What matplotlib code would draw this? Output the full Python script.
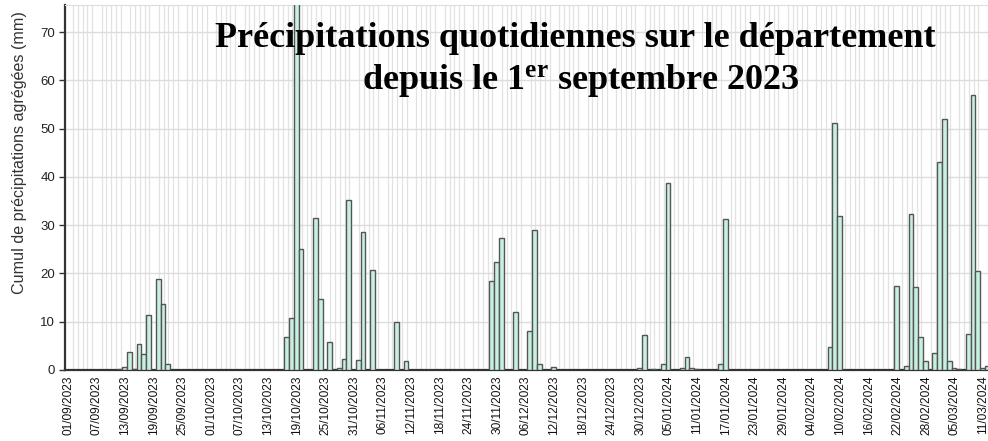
import matplotlib
matplotlib.use("Agg")
import matplotlib.pyplot as plt
import pandas as pd
import numpy as np

# ---- data -------------------------------------------------------------
start_date = "01/09/2023"
rain_dates = [
    "11/09/2023", "12/09/2023", "13/09/2023", "14/09/2023", "15/09/2023",
    "16/09/2023", "17/09/2023", "19/09/2023", "20/09/2023", "21/09/2023",
    "16/10/2023", "17/10/2023", "18/10/2023", "19/10/2023", "22/10/2023",
    "23/10/2023", "25/10/2023", "27/10/2023", "28/10/2023", "29/10/2023",
    "31/10/2023", "01/11/2023", "03/11/2023", "04/11/2023", "08/11/2023",
    "10/11/2023", "15/11/2023",
    "28/11/2023", "29/11/2023", "30/11/2023", "03/12/2023", "06/12/2023",
    "07/12/2023", "08/12/2023", "11/12/2023",
    "29/12/2023", "30/12/2023", "01/01/2024", "03/01/2024", "04/01/2024",
    "07/01/2024", "08/01/2024", "09/01/2024", "10/01/2024", "15/01/2024",
    "16/01/2024", "17/01/2024",
    "07/02/2024", "08/02/2024", "09/02/2024", "10/02/2024",
    "21/02/2024", "23/02/2024", "24/02/2024", "25/02/2024", "26/02/2024",
    "27/02/2024", "28/02/2024", "29/02/2024", "01/03/2024", "02/03/2024",
    "03/03/2024", "04/03/2024", "05/03/2024", "07/03/2024", "08/03/2024",
    "09/03/2024", "10/03/2024", "11/03/2024",
]
rain_mm = [
    0.2, 0.7, 3.7, 0.2, 5.3,
    3.4, 11.3, 18.8, 13.7, 1.2,
    6.9, 10.7, 83.0, 25.0, 31.4,
    14.7, 5.9, 0.5, 2.3, 35.2,
    2.1, 28.5, 20.7, 0.1, 9.9,
    1.9, 0.1,
    18.5, 22.3, 27.4, 12.1, 8.1,
    29.0, 1.2, 0.7,
    0.4, 7.3, 0.2, 1.25, 38.8,
    0.4, 2.6, 0.4, 0.15, 1.25,
    31.3, 0.1,
    4.8, 51.1, 32.0, 0.1,
    17.4, 0.9, 32.3, 17.1, 6.9,
    1.8, 0.1, 3.5, 43.1, 52.0,
    1.8, 0.5, 0.3, 7.5, 57.0,
    20.6, 0.5, 0.8,
]
tick_step_days = 6
n_tick_labels = 33
y_ticks = [0, 10, 20, 30, 40, 50, 60, 70]

title_line1 = "Précipitations quotidiennes sur le département"
title_line2 = r"depuis le 1$^{\mathbf{er}}$ septembre 2023"
y_label = "Cumul de précipitations agrégées (mm)"

# ---- figure -----------------------------------------------------------
plt.rcParams["font.family"] = ["Liberation Sans", "DejaVu Sans"]
plt.rcParams["mathtext.fontset"] = "custom"
plt.rcParams["mathtext.rm"] = "Liberation Serif:bold"
plt.rcParams["mathtext.bf"] = "Liberation Serif:bold"
plt.rcParams["mathtext.it"] = "Liberation Serif:bold"

W, H = 988, 441
fig = plt.figure(figsize=(W / 100, H / 100), dpi=100)
ax_l, ax_r, ax_b, ax_t = 65, 988, 71, 436
ax = fig.add_axes([ax_l / W, ax_b / H, (ax_r - ax_l) / W, (ax_t - ax_b) / H])

t0 = pd.to_datetime(start_date, dayfirst=True)
days = (pd.to_datetime(rain_dates, dayfirst=True) - t0).days.values.astype(float)

ax.bar(days + 0.35, rain_mm, width=1.0, align="edge",
       color="#c8f0e0", edgecolor="#555555", linewidth=1.0, zorder=3)

ax.set_xlim(-0.7, 192.8)
ax.set_ylim(0, 75.6)

# grid
ax.set_xticks(np.arange(0, 194, 1), minor=True)
ax.grid(which="minor", axis="x", color="#e2e2e2", linewidth=0.9, zorder=0)
ax.set_yticks(y_ticks)
ax.grid(which="major", axis="y", color="#dcdcdc", linewidth=1.0, zorder=0)
ax.tick_params(which="minor", length=0)

tick_pos = np.arange(n_tick_labels) * tick_step_days
tick_lbl = [(t0 + pd.Timedelta(days=int(d))).strftime("%d/%m/%Y") for d in tick_pos]
ax.set_xticks(tick_pos)
ax.set_xticklabels(tick_lbl, rotation=90, fontsize=8.6, color="#111111")
ax.tick_params(axis="x", which="major", length=0, pad=4)
ax.tick_params(axis="y", length=4, width=1, color="#333333", labelsize=9.5,
               labelcolor="#222222", pad=3)

for s in ["left", "bottom"]:
    ax.spines[s].set_color("#333333")
    ax.spines[s].set_linewidth(1.6)
ax.spines["top"].set_color("#dddddd")
ax.spines["right"].set_visible(False)

fig.text(20 / W, 1 - 153 / H, y_label, rotation=90, ha="center", va="center",
         fontsize=11.6, color="#333333")

fig.text(575 / W, 1 - 47 / H, title_line1, ha="center", va="baseline",
         fontsize=26, fontweight="bold", family="Liberation Serif", color="black",
         zorder=10)
fig.text(581 / W, 1 - 89 / H, title_line2, ha="center", va="baseline",
         fontsize=26, fontweight="bold", family="Liberation Serif", color="black",
         zorder=10)

fig.savefig("out.png", dpi=100)
